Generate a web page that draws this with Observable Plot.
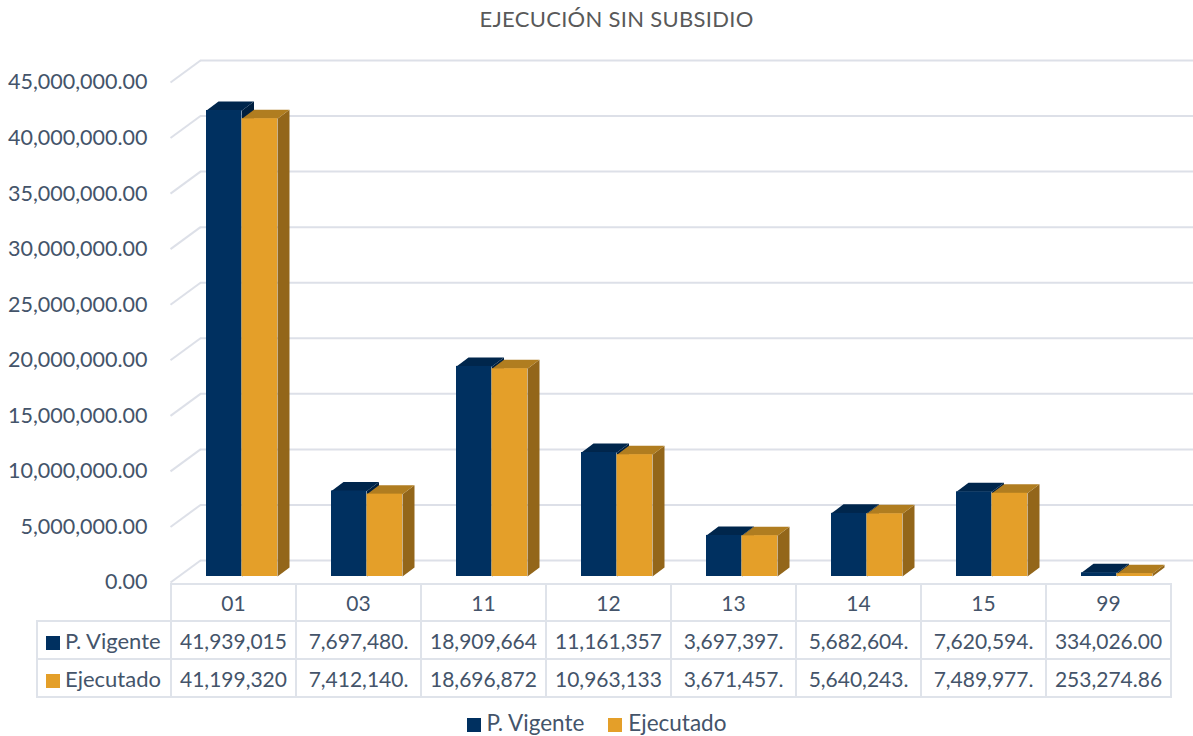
<!DOCTYPE html>
<html>
<head>
<meta charset="utf-8">
<script src="https://cdn.jsdelivr.net/npm/d3@7"></script>
<script src="https://cdn.jsdelivr.net/npm/@observablehq/plot@0.6"></script>
<style>
  html, body { margin: 0; padding: 0; background: #fff; }
  body { width: 1193px; height: 736px; position: relative; overflow: hidden; font-family: Lato, "Open Sans", sans-serif; color: #44546A; }
  #title { position: absolute; top: 5px; left: 40px; width: 1153px; text-align: center; font-size: 22px; color: #595959; letter-spacing: 0.3px; }
  #chart { position: absolute; top: 40px; left: 0; }
  #table { position: absolute; top: 583px; left: 36px; border-collapse: collapse; font-size: 21px; color: #44546A; table-layout: fixed; }
  #table td { border: 2px solid #dfe3ea; text-align: center; padding: 0; white-space: nowrap; overflow: hidden; }
  #table td.blank { border-top: none; border-left: none; }
  #table td.lab { text-align: left; padding-left: 8px; font-size: 22px; }
  .key { display: inline-block; width: 14px; height: 14px; margin-right: 5px; vertical-align: -1px; }
  #legend { position: absolute; top: 709px; left: 0; width: 1193px; text-align: center; font-size: 22.5px; color: #44546A; }
  #legend span.item { margin: 0 12px; }
  #legend .key { margin-right: 6px; }
</style>
</head>
<body>
<div id="title"></div>
<div id="chart"></div>
<table id="table"></table>
<div id="legend"></div>
<script>
// ---- data ----
const title = "EJECUCIÓN SIN SUBSIDIO";
const categories = ["01", "03", "11", "12", "13", "14", "15", "99"];
const seriesNames = ["P. Vigente", "Ejecutado"];
const vigente = [41939015, 7697480, 18909664, 11161357, 3697397, 5682604, 7620594, 334026.00];
const ejecutado = [41199320, 7412140, 18696872, 10963133, 3671457, 5640243, 7489977, 253274.86];
const yTicks = [0, 5000000, 10000000, 15000000, 20000000, 25000000, 30000000, 35000000, 40000000, 45000000];

// ---- style ----
const colors = {
  front: ["#003060", "#E49F29"],
  top:   ["#00264C", "#B07D20"],
  side:  ["#001F3F", "#93661A"]
};
const gridColor = "#dde0e8";
const W = 1193, H = 560;
const mL = 170, mR = 23, mT = 42, mB = 18;
const nCat = categories.length;
const pxX = nCat / (W - mL - mR);        // data units per px on x
const yMax = 45000000;
const pxY = yMax / (H - mT - mB);        // data units per px on y
const wallDx = 30, wallDy = 22;          // depth of the back wall
const barDx = 12, barDy = 9;             // depth of each bar
const barStart = 36, barW = 35.5, barLift = 6;

const series = [vigente, ejecutado];
const rows = [];
series.forEach((vals, s) => vals.forEach((v, i) => {
  const x1 = i + (barStart + s * barW) * pxX;
  const x2 = x1 + barW * pxX;
  rows.push({i, s, v, x1, x2});
}));

const topPts = [], sidePts = [];
rows.forEach((r, k) => {
  const ddx = barDx * pxX, ddy = barDy * pxY;
  topPts.push(
    {k, s: r.s, x: r.x1, y: r.v}, {k, s: r.s, x: r.x2, y: r.v},
    {k, s: r.s, x: r.x2 + ddx, y: r.v + ddy}, {k, s: r.s, x: r.x1 + ddx, y: r.v + ddy}
  );
  sidePts.push(
    {k, s: r.s, x: r.x2, y: 0}, {k, s: r.s, x: r.x2 + ddx, y: ddy},
    {k, s: r.s, x: r.x2 + ddx, y: r.v + ddy}, {k, s: r.s, x: r.x2, y: r.v}
  );
});

const barMarks = [0, 1].flatMap(s => [
  Plot.line(sidePts.filter(d => d.s === s), {x: "x", y: "y", z: "k", fill: colors.side[s], stroke: "none", dy: -barLift}),
  Plot.line(topPts.filter(d => d.s === s), {x: "x", y: "y", z: "k", fill: colors.top[s], stroke: "none", dy: -barLift}),
  Plot.rect(rows.filter(d => d.s === s), {x1: "x1", x2: "x2", y1: 0, y2: "v", fill: colors.front[s], dy: -barLift})
]);

const chart = Plot.plot({
  width: W, height: H,
  marginLeft: mL, marginRight: mR, marginTop: mT, marginBottom: mB,
  style: {fontFamily: "Lato, 'Open Sans', sans-serif", fontSize: "21px", color: "#44546A", background: "transparent", overflow: "visible"},
  x: {domain: [0, nCat], axis: null},
  y: {domain: [0, yMax], axis: null},
  marks: [
    Plot.ruleY(yTicks, {x1: 0, x2: nCat, dx: wallDx, dy: -wallDy, stroke: gridColor, strokeWidth: 2}),
    Plot.link(yTicks, {x1: 0, y1: d => d, x2: wallDx * pxX, y2: d => d + wallDy * pxY, stroke: gridColor, strokeWidth: 2}),
    ...barMarks,
    Plot.axisY(yTicks, {anchor: "left", tickSize: 0, tickPadding: 23, tickFormat: d3.format(",.2f"), fontSize: 21.5, fill: "#44546A"})
  ]
});
document.getElementById("chart").appendChild(chart);

// ---- title ----
document.getElementById("title").textContent = title;

// ---- data table ----
const fmt = d3.format(",.2f");
const cellText = v => fmt(v).slice(0, 10);
const table = document.getElementById("table");
const colgroup = document.createElement("colgroup");
[134, ...categories.map(() => 125)].forEach(w => {
  const c = document.createElement("col"); c.style.width = w + "px"; colgroup.appendChild(c);
});
table.appendChild(colgroup);
const hdr = table.insertRow();
hdr.style.height = "37px";
const blank = hdr.insertCell(); blank.className = "blank";
categories.forEach(c => { const td = hdr.insertCell(); td.textContent = c; });
series.forEach((vals, s) => {
  const tr = table.insertRow();
  tr.style.height = "38px";
  const lab = tr.insertCell(); lab.className = "lab";
  lab.innerHTML = `<span class="key" style="background:${colors.front[s]}"></span>${seriesNames[s]}`;
  vals.forEach(v => { const td = tr.insertCell(); td.textContent = cellText(v); });
});

// ---- legend ----
document.getElementById("legend").innerHTML = seriesNames.map((n, s) =>
  `<span class="item"><span class="key" style="background:${colors.front[s]}"></span>${n}</span>`).join("");
</script>
</body>
</html>
